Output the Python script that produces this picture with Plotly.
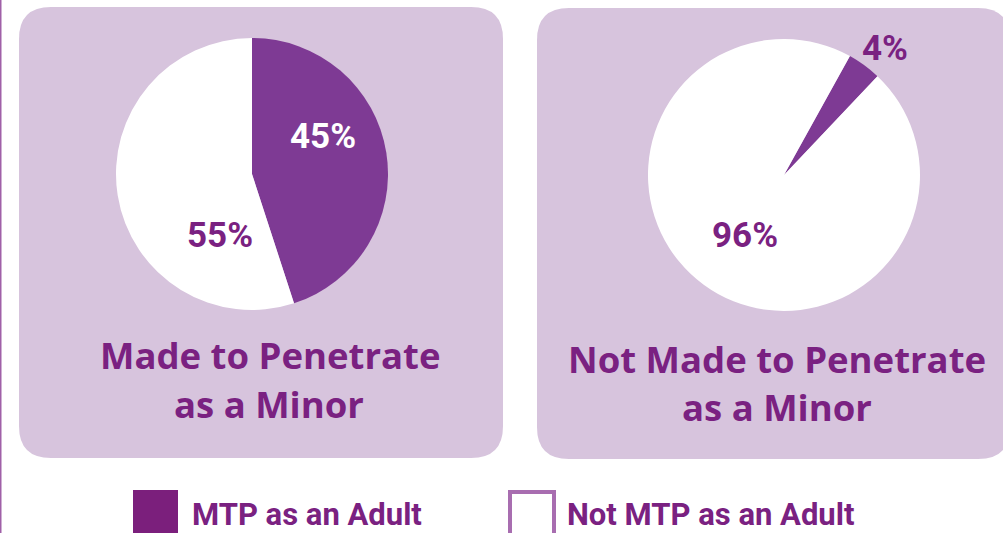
import plotly.graph_objects as go

# ---- data ----
series_labels = ["MTP as an Adult", "Not MTP as an Adult"]
panel_titles = [["Made to Penetrate", "as a Minor"],
                ["Not Made to Penetrate", "as a Minor"]]
minor_mtp_values = [45, 55]
minor_not_mtp_values = [4, 96]

# ---- style ----
W, H = 1003, 533
PANEL = "#d7c4dd"
PURPLE = "#7e3a94"
TXT = "#7a2181"
TITLE_FONT = "Open Sans, Lato, sans-serif"
NUM_FONT = "Roboto, Lato, sans-serif"

def dom(cx, cy, r):
    return dict(x=[(cx - r) / W, (cx + r) / W], y=[1 - (cy + r) / H, 1 - (cy - r) / H])

def rrect(x0, y0, x1, y1, r):
    return (f"M {x0+r},{y0} L {x1-r},{y0} Q {x1},{y0} {x1},{y0+r} "
            f"L {x1},{y1-r} Q {x1},{y1} {x1-r},{y1} L {x0+r},{y1} "
            f"Q {x0},{y1} {x0},{y1-r} L {x0},{y0+r} Q {x0},{y0} {x0+r},{y0} Z")

fig = go.Figure()

pies = [
    (minor_mtp_values, dom(252, 174, 136), 0),
    (minor_not_mtp_values, dom(784, 175, 136), 29),
]
for vals, d, rot in pies:
    fig.add_trace(go.Pie(
        labels=series_labels, values=vals, sort=False, direction="clockwise",
        rotation=rot, domain=d, textinfo="none", hoverinfo="label+percent",
        marker=dict(colors=[PURPLE, "#ffffff"], line=dict(width=0)),
        showlegend=False,
    ))

shapes = [
    dict(type="path", path=rrect(19, 7, 503, 458, 32), fillcolor=PANEL, line=dict(width=0), layer="below"),
    dict(type="path", path=rrect(537, 8, 1010, 459, 32), fillcolor=PANEL, line=dict(width=0), layer="below"),
    dict(type="rect", x0=0, x1=1.5, y0=0, y1=533, fillcolor="#a060a8", line=dict(width=0)),
    dict(type="rect", x0=133, x1=178, y0=490, y1=545, fillcolor="#7b1f7c", line=dict(width=0)),
    dict(type="rect", x0=510, x1=554, y0=492, y1=545, fillcolor="#ffffff", line=dict(width=4, color="#a86db0")),
]

ann = []
def label(x, y, text, color, size=37, font=NUM_FONT, xanchor="center", yanchor="middle"):
    ann.append(dict(x=x, y=y, xref="x", yref="y", text=text, showarrow=False,
                    xanchor=xanchor, yanchor=yanchor,
                    font=dict(family=font, size=size, color=color, weight="bold")))

# pie percentage labels
label(323, 136, f"{minor_mtp_values[0]}%", "#ffffff", size=35)
label(220, 235, f"{minor_mtp_values[1]}%", TXT, size=35)
label(885, 48, f"{minor_not_mtp_values[0]}%", TXT, size=35)
label(745, 235, f"{minor_not_mtp_values[1]}%", TXT, size=35)

# panel titles
title_pos = [[(270, 355), (269, 404)], [(777, 359), (777, 407)]]
for lines, poss in zip(panel_titles, title_pos):
    for t, (x, y) in zip(lines, poss):
        label(x, y, t, TXT, size=36.5, font=TITLE_FONT)

# legend labels
label(190, 514, series_labels[0], TXT, size=31, xanchor="left")
label(565, 514, series_labels[1], TXT, size=31, xanchor="left")

fig.update_layout(
    width=W, height=H, margin=dict(l=0, r=0, t=0, b=0),
    paper_bgcolor="#ffffff", plot_bgcolor="#ffffff",
    xaxis=dict(range=[0, W], visible=False, fixedrange=True),
    yaxis=dict(range=[H, 0], visible=False, fixedrange=True),
    shapes=shapes, annotations=ann,
)
fig.write_html("out.html")
